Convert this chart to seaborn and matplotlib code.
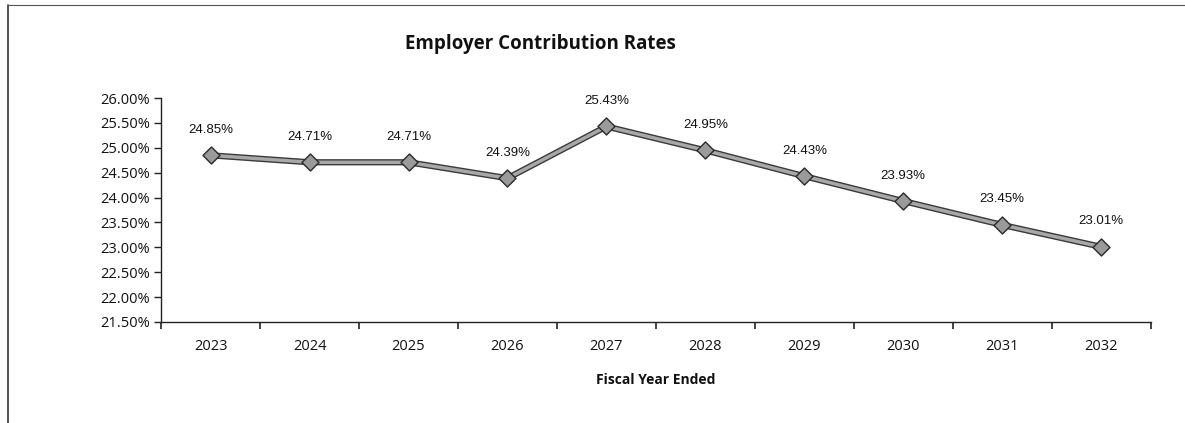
import pandas as pd
import numpy as np
import matplotlib
matplotlib.use("Agg")
import matplotlib.pyplot as plt
import matplotlib.patheffects as pe
from matplotlib.lines import Line2D
from matplotlib.ticker import FixedLocator, FuncFormatter
import seaborn as sns

# data
years = ["2023", "2024", "2025", "2026", "2027", "2028", "2029", "2030", "2031", "2032"]
rates = [24.85, 24.71, 24.71, 24.39, 25.43, 24.95, 24.43, 23.93, 23.45, 23.01]
y_ticks = [21.5, 22.0, 22.5, 23.0, 23.5, 24.0, 24.5, 25.0, 25.5, 26.0]

df = pd.DataFrame({"year": years, "rate": rates})
df["pos"] = np.arange(len(years))

sns.set_style("white")
plt.rcParams["font.family"] = ["Open Sans", "DejaVu Sans"]
plt.rcParams["text.color"] = "#111111"
plt.rcParams["xtick.color"] = "#111111"
plt.rcParams["ytick.color"] = "#111111"
plt.rcParams["axes.labelcolor"] = "#111111"

fig = plt.figure(figsize=(11.85, 4.23), dpi=100)
ax = fig.add_axes([0.136, 0.239, 0.835, 0.529])

outline = [pe.Stroke(linewidth=4.5, foreground="#3a3a3a"), pe.Normal()]
sns.lineplot(data=df, x="pos", y="rate", ax=ax, color="#a8a8a8", linewidth=2.5,
             path_effects=outline, zorder=2)
sns.scatterplot(data=df, x="pos", y="rate", ax=ax, marker="D", s=75,
                color="#9a9a9a", edgecolor="#2a2a2a", linewidth=1.0, zorder=3)

# data labels
for _, r in df.iterrows():
    ax.annotate(f"{r['rate']:.2f}%", (r["pos"], r["rate"]), xytext=(0, 14),
                textcoords="offset points", ha="center", va="bottom",
                fontsize=9.5, family=["Liberation Sans", "DejaVu Sans"], color="#111111")

ax.set_xlim(-0.5, len(years) - 0.5)
ax.set_ylim(y_ticks[0], y_ticks[-1])
ax.yaxis.set_major_locator(FixedLocator(y_ticks))
ax.yaxis.set_major_formatter(FuncFormatter(lambda v, p: f"{v:.2f}%"))
ax.set_xticks(df["pos"])
ax.set_xticklabels(years)
ax.set_xticks(np.arange(-0.5, len(years)), minor=True)

ax.tick_params(axis="x", which="major", bottom=True, length=0, pad=12, labelsize=10.5)
ax.tick_params(axis="x", which="minor", bottom=True, length=5, width=1.2,
               direction="out", color="#222222")
ax.tick_params(axis="y", which="major", left=True, length=5, width=1,
               direction="out", color="#222222", labelsize=10.5, pad=3)

for side in ["top", "right"]:
    ax.spines[side].set_visible(False)
for side in ["left", "bottom"]:
    ax.spines[side].set_color("#222222")
    ax.spines[side].set_linewidth(1.0)

ax.set_xlabel("Fiscal Year Ended", fontsize=10, fontweight="bold", labelpad=14)
ax.set_ylabel("")
fig.text(0.456, 0.895, "Employer Contribution Rates", ha="center", va="center",
         fontsize=13.5, fontweight="bold")

# scanned frame edges (left and top)
fig.add_artist(Line2D([0.007, 0.007], [0.0, 0.988], transform=fig.transFigure,
                      color="#333333", linewidth=1.2))
fig.add_artist(Line2D([0.007, 1.0], [0.988, 0.988], transform=fig.transFigure,
                      color="#555555", linewidth=0.8))

fig.savefig("out.png", dpi=100)
